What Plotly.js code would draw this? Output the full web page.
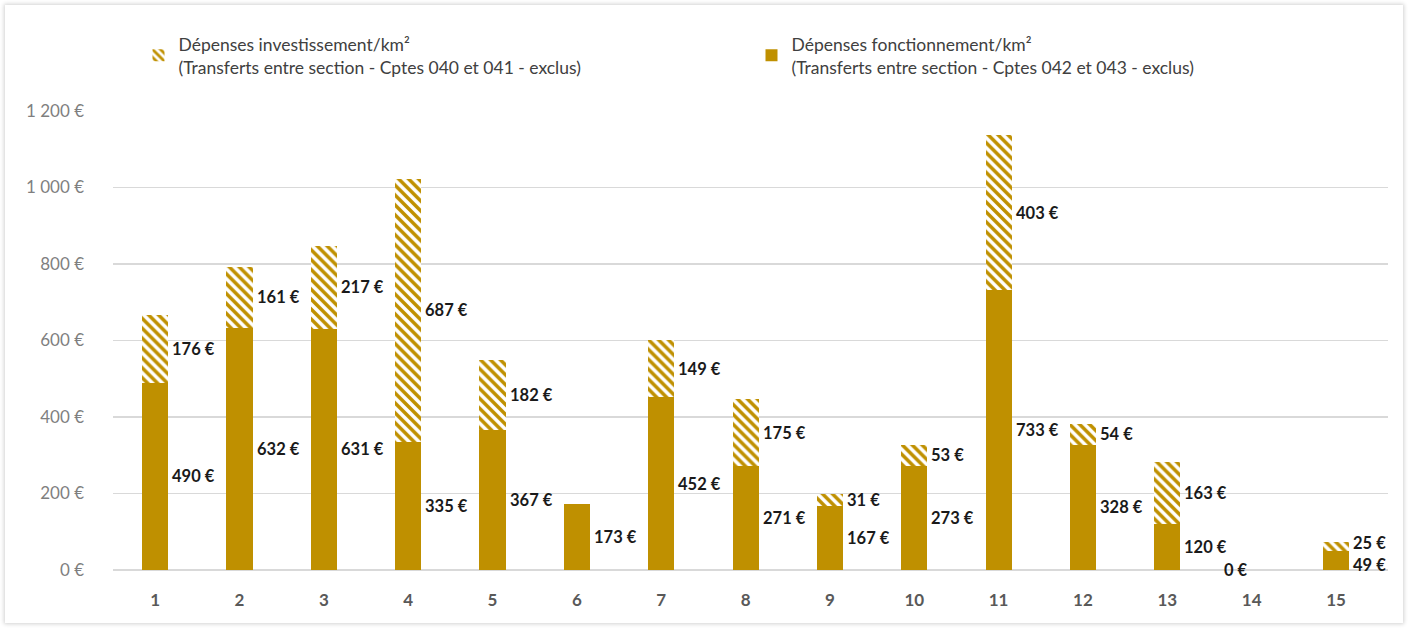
<!DOCTYPE html>
<html>
<head>
<meta charset="utf-8">
<script src="https://cdn.plot.ly/plotly-3.0.1.min.js"></script>
<style>
  body { margin: 0; background: #ffffff; }
  #wrap { position: absolute; left: 5px; top: 5px; width: 1398px; height: 618px;
          box-shadow: 0 0 4px 1px rgba(0,0,0,0.18); background: #fff; }
  #chart { width: 1398px; height: 618px; }
</style>
</head>
<body>
<div id="wrap"><div id="chart"></div></div>
<script>
const categories = ['1','2','3','4','5','6','7','8','9','10','11','12','13','14','15'];
const fonctionnement = [490, 632, 631, 335, 367, 173, 452, 271, 167, 273, 733, 328, 120, 0, 49];
const investissement = [176, 161, 217, 687, 182, 0, 149, 175, 31, 53, 403, 54, 163, 0, 25];
const yTicks = [0, 200, 400, 600, 800, 1000, 1200];
const yTickLabels = ['0 €', '200 €', '400 €', '600 €', '800 €', '1 000 €', '1 200 €'];
const nameFonct = 'Dépenses fonctionnement/km²<br>(Transferts entre section - Cptes 042 et 043 - exclus)';
const nameInv = 'Dépenses investissement/km²<br>(Transferts entre section - Cptes 040 et 041 - exclus)';

const gold = '#BF9000';
const font = 'Lato, "Open Sans", sans-serif';
const plotHeightPx = 460, yMax = 1200;

const traces = [
  { type: 'bar', x: categories, y: fonctionnement, name: nameFonct,
    marker: { color: gold }, hoverinfo: 'skip' },
  { type: 'bar', x: categories, y: investissement, name: nameInv,
    marker: { color: '#ffffff', pattern: { shape: '\\', fgcolor: gold, bgcolor: '#ffffff', size: 7, solidity: 0.5, fillmode: 'replace' } },
    hoverinfo: 'skip' }
];

const labelFont = { family: font, size: 16.5, color: '#1a1a1a' };
const annotations = [];
categories.forEach((c, i) => {
  const f = fonctionnement[i], v = investissement[i];
  // keep the two labels of a bar at least ~22px apart
  const gapPx = (f / 2 + v / 2) * plotHeightPx / yMax;
  const push = v > 0 ? Math.max(0, (22 - gapPx) / 2) : 0;
  const zero = (f === 0 && v === 0);
  annotations.push({ x: i, y: f / 2, xref: 'x', yref: 'y', text: '<b>' + f + ' €</b>',
    showarrow: false, xanchor: zero ? 'right' : 'left', yanchor: 'middle',
    xshift: zero ? -2 : 15, yshift: -push, font: labelFont });
  if (v > 0) {
    annotations.push({ x: i, y: f + v / 2, xref: 'x', yref: 'y', text: '<b>' + v + ' €</b>',
      showarrow: false, xanchor: 'left', yanchor: 'middle', xshift: 15, yshift: push, font: labelFont });
  }
});

const layout = {
  width: 1398, height: 618,
  margin: { l: 108, r: 15, t: 106, b: 53 },
  paper_bgcolor: '#ffffff', plot_bgcolor: '#ffffff',
  barmode: 'stack', bargap: 0.69,
  showlegend: true,
  legend: { orientation: 'h', x: 0.02, y: 1.185, xanchor: 'left', yanchor: 'top',
    traceorder: 'reversed', entrywidth: 568, entrywidthmode: 'pixels',
    font: { family: font, size: 17.5, color: '#404040' }, bgcolor: 'rgba(0,0,0,0)' },
  xaxis: { type: 'category', showgrid: false, zeroline: false, showline: false, ticks: '',
    ticklabelstandoff: 18,
    tickfont: { family: font, size: 17, color: '#595959', weight: 'bold' } },
  yaxis: { range: [0, yMax], tickvals: yTicks, ticktext: yTickLabels, showgrid: true,
    gridcolor: '#d9d9d9', gridwidth: 1.3, zeroline: true, zerolinecolor: '#d9d9d9', zerolinewidth: 1.3,
    showline: false, ticks: '', ticklabelstandoff: 28,
    tickfont: { family: font, size: 17, color: '#7f7f7f' } },
  annotations: annotations,
  font: { family: font }
};

Plotly.newPlot('chart', traces, layout, { displayModeBar: false, staticPlot: true });
</script>
</body>
</html>
